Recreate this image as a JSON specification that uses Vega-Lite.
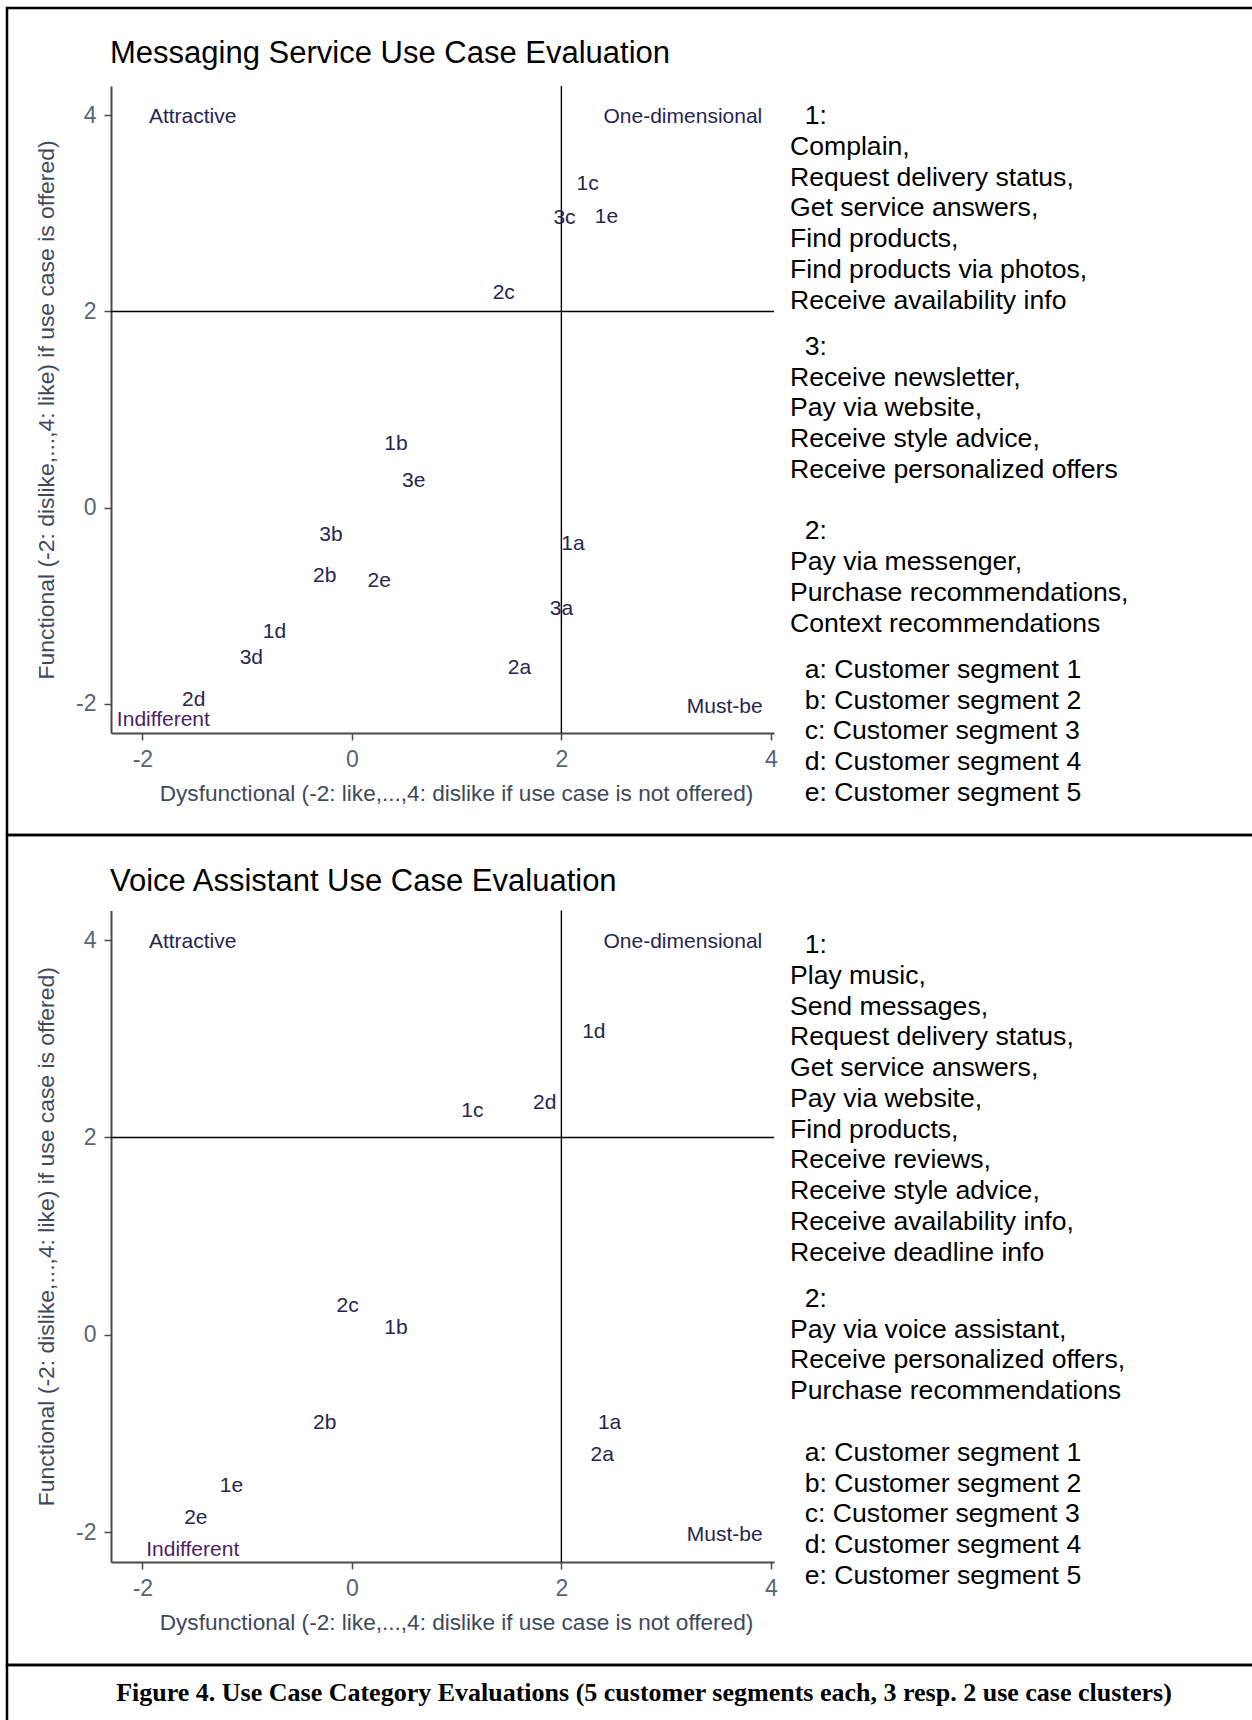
{
  "$schema": "https://vega.github.io/schema/vega-lite/v6.json",
  "padding": {"left": 5, "top": 6, "right": 0, "bottom": 0},
  "bounds": "flush",
  "spacing": 0,
  "config": {
    "view": {"stroke": "black", "strokeWidth": 2.5},
    "font": "Liberation Sans",
    "axis": {
      "grid": false, "domainColor": "#4a4a4a", "domainWidth": 2, "tickColor": "#4a4a4a", "tickWidth": 1.5, "tickSize": 7,
      "labelFont": "Liberation Sans", "labelFontSize": 23, "labelColor": "#56657a", "labelOverlap": false, "labelFlush": false,
      "labelExpr": "'' + datum.value",
      "titleFont": "Liberation Sans", "titleFontWeight": "normal", "titleColor": "#3e4a5c", "titleBaseline": "middle"
    }
  },
  "datasets": {
    "refs": [{"ref": 2}],
    "ms_points": [
      {"label": "1c", "x": 2.25, "y": 3.30},
      {"label": "3c", "x": 2.03, "y": 2.95},
      {"label": "1e", "x": 2.43, "y": 2.96},
      {"label": "2c", "x": 1.45, "y": 2.19},
      {"label": "1b", "x": 0.42, "y": 0.65},
      {"label": "3e", "x": 0.59, "y": 0.27},
      {"label": "3b", "x": -0.20, "y": -0.28},
      {"label": "1a", "x": 2.11, "y": -0.37},
      {"label": "2b", "x": -0.26, "y": -0.70},
      {"label": "2e", "x": 0.26, "y": -0.75},
      {"label": "3a", "x": 2.00, "y": -1.03},
      {"label": "1d", "x": -0.74, "y": -1.27},
      {"label": "3d", "x": -0.96, "y": -1.54},
      {"label": "2a", "x": 1.60, "y": -1.64},
      {"label": "2d", "x": -1.51, "y": -1.96}
    ],
    "ms_quadrants": [
      {"label": "Attractive", "x": -1.52, "y": 3.98},
      {"label": "One-dimensional", "x": 3.16, "y": 3.98},
      {"label": "Indifferent", "x": -1.80, "y": -2.17},
      {"label": "Must-be", "x": 3.56, "y": -2.03}
    ],
    "ms_legend": [
      {"line": 0, "text": "\u200b\u00a0\u00a01:"},
      {"line": 1, "text": "Complain,"},
      {"line": 2, "text": "Request delivery status,"},
      {"line": 3, "text": "Get service answers,"},
      {"line": 4, "text": "Find products,"},
      {"line": 5, "text": "Find products via photos,"},
      {"line": 6, "text": "Receive availability info"},
      {"line": 7.5, "text": "\u200b\u00a0\u00a03:"},
      {"line": 8.5, "text": "Receive newsletter,"},
      {"line": 9.5, "text": "Pay via website,"},
      {"line": 10.5, "text": "Receive style advice,"},
      {"line": 11.5, "text": "Receive personalized offers"},
      {"line": 13.5, "text": "\u200b\u00a0\u00a02:"},
      {"line": 14.5, "text": "Pay via messenger,"},
      {"line": 15.5, "text": "Purchase recommendations,"},
      {"line": 16.5, "text": "Context recommendations"},
      {"line": 18, "text": "\u200b\u00a0\u00a0a: Customer segment 1"},
      {"line": 19, "text": "\u200b\u00a0\u00a0b: Customer segment 2"},
      {"line": 20, "text": "\u200b\u00a0\u00a0c: Customer segment 3"},
      {"line": 21, "text": "\u200b\u00a0\u00a0d: Customer segment 4"},
      {"line": 22, "text": "\u200b\u00a0\u00a0e: Customer segment 5"}
    ],
    "va_points": [
      {"label": "1d", "x": 2.31, "y": 3.07},
      {"label": "2d", "x": 1.84, "y": 2.35},
      {"label": "1c", "x": 1.15, "y": 2.27},
      {"label": "2c", "x": -0.04, "y": 0.29},
      {"label": "1b", "x": 0.42, "y": 0.07},
      {"label": "2b", "x": -0.26, "y": -0.89},
      {"label": "1a", "x": 2.46, "y": -0.89},
      {"label": "2a", "x": 2.39, "y": -1.22},
      {"label": "1e", "x": -1.15, "y": -1.53},
      {"label": "2e", "x": -1.49, "y": -1.85}
    ],
    "va_quadrants": [
      {"label": "Attractive", "x": -1.52, "y": 3.98},
      {"label": "One-dimensional", "x": 3.16, "y": 3.98},
      {"label": "Indifferent", "x": -1.52, "y": -2.18},
      {"label": "Must-be", "x": 3.56, "y": -2.03}
    ],
    "va_legend": [
      {"line": 0, "text": "\u200b\u00a0\u00a01:"},
      {"line": 1, "text": "Play music,"},
      {"line": 2, "text": "Send messages,"},
      {"line": 3, "text": "Request delivery status,"},
      {"line": 4, "text": "Get service answers,"},
      {"line": 5, "text": "Pay via website,"},
      {"line": 6, "text": "Find products,"},
      {"line": 7, "text": "Receive reviews,"},
      {"line": 8, "text": "Receive style advice,"},
      {"line": 9, "text": "Receive availability info,"},
      {"line": 10, "text": "Receive deadline info"},
      {"line": 11.5, "text": "\u200b\u00a0\u00a02:"},
      {"line": 12.5, "text": "Pay via voice assistant,"},
      {"line": 13.5, "text": "Receive personalized offers,"},
      {"line": 14.5, "text": "Purchase recommendations"},
      {"line": 16.5, "text": "\u200b\u00a0\u00a0a: Customer segment 1"},
      {"line": 17.5, "text": "\u200b\u00a0\u00a0b: Customer segment 2"},
      {"line": 18.5, "text": "\u200b\u00a0\u00a0c: Customer segment 3"},
      {"line": 19.5, "text": "\u200b\u00a0\u00a0d: Customer segment 4"},
      {"line": 20.5, "text": "\u200b\u00a0\u00a0e: Customer segment 5"}
    ],
    "caption": [
      {"caption": "Figure 4. Use Case Category Evaluations (5 customer segments each, 3 resp. 2 use case clusters)"}
    ]
  },
  "vconcat": [
    {
      "width": 1250,
      "height": 827,
      "title": {"text": "Messaging Service Use Case Evaluation", "orient": "top", "anchor": "start", "frame": "group", "offset": -77, "dx": 103, "baseline": "middle", "fontSize": 31, "fontWeight": "normal", "color": "black", "font": "Liberation Sans"},
      "resolve": {"scale": {"x": "independent", "y": "independent"}},
      "layer": [
        {
          "data": {"name": "refs"},
          "mark": {"type": "rule", "color": "black", "strokeWidth": 1.4},
          "encoding": {
            "x": {"field": "ref", "type": "quantitative", "scale": {"domain": [-2.3, 4.03], "range": [104, 767], "nice": false, "zero": false}, "axis": null},
            "y": {"datum": -2.3, "type": "quantitative", "scale": {"domain": [-2.3, 4.3], "range": [725, 78], "nice": false, "zero": false}, "axis": null},
            "y2": {"datum": 4.3}
          }
        },
        {
          "data": {"name": "refs"},
          "mark": {"type": "rule", "color": "black", "strokeWidth": 1.4},
          "encoding": {
            "y": {"field": "ref", "type": "quantitative", "scale": {"domain": [-2.3, 4.3], "range": [725, 78], "nice": false, "zero": false}, "axis": null},
            "x": {"datum": -2.3, "type": "quantitative", "scale": {"domain": [-2.3, 4.03], "range": [104, 767], "nice": false, "zero": false}, "axis": null},
            "x2": {"datum": 4.03}
          }
        },
        {
          "data": {"name": "ms_quadrants"},
          "mark": {"type": "text", "font": "Liberation Sans", "fontSize": 21, "align": "center", "baseline": "middle"},
          "encoding": {
            "x": {"field": "x", "type": "quantitative", "scale": {"domain": [-2.3, 4.03], "range": [104, 767], "nice": false, "zero": false}, "axis": null},
            "y": {"field": "y", "type": "quantitative", "scale": {"domain": [-2.3, 4.3], "range": [725, 78], "nice": false, "zero": false}, "axis": null},
            "text": {"field": "label"},
            "color": {"condition": {"test": "datum.label === 'Indifferent'", "value": "#4d1f66"}, "value": "#262650"}
          }
        },
        {
          "data": {"name": "ms_points"},
          "mark": {"type": "text", "font": "Liberation Sans", "fontSize": 21, "align": "center", "baseline": "middle", "color": "#262650"},
          "encoding": {
            "x": {
              "field": "x", "type": "quantitative",
              "scale": {"domain": [-2.3, 4.03], "range": [104, 767], "nice": false, "zero": false},
              "axis": {"orient": "bottom", "title": "Dysfunctional (-2: like,...,4: dislike if use case is not offered)", "values": [-2, 0, 2, 4], "offset": -102, "labelBaseline": "middle", "labelPadding": 19, "titleFontSize": 22.6, "titleX": 449, "titleY": 60}
            },
            "y": {
              "field": "y", "type": "quantitative",
              "scale": {"domain": [-2.3, 4.3], "range": [725, 78], "nice": false, "zero": false},
              "axis": {"orient": "left", "title": "Functional (-2: dislike,...,4: like) if use case is offered)", "values": [-2, 0, 2, 4], "offset": -104, "labelPadding": 8, "labelAngle": 0, "titleFontSize": 22.9, "titleX": -65}
            },
            "text": {"field": "label"}
          }
        },
        {
          "data": {"name": "ms_legend"},
          "mark": {"type": "text", "font": "Liberation Sans", "fontSize": 26.6, "align": "left", "baseline": "middle", "color": "black"},
          "encoding": {
            "x": {"datum": 0, "type": "quantitative", "scale": {"domain": [0, 1], "range": [783, 1250]}, "axis": null},
            "y": {"field": "line", "type": "quantitative", "scale": {"domain": [0, 22], "range": [108, 785], "nice": false, "zero": false}, "axis": null},
            "text": {"field": "text"}
          }
        }
      ]
    },
    {
      "width": 1250,
      "height": 830,
      "title": {"text": "Voice Assistant Use Case Evaluation", "orient": "top", "anchor": "start", "frame": "group", "offset": -78, "dx": 103, "baseline": "middle", "fontSize": 31, "fontWeight": "normal", "color": "black", "font": "Liberation Sans"},
      "resolve": {"scale": {"x": "independent", "y": "independent"}},
      "layer": [
        {
          "data": {"name": "refs"},
          "mark": {"type": "rule", "color": "black", "strokeWidth": 1.4},
          "encoding": {
            "x": {"field": "ref", "type": "quantitative", "scale": {"domain": [-2.3, 4.03], "range": [104, 767], "nice": false, "zero": false}, "axis": null},
            "y": {"datum": -2.3, "type": "quantitative", "scale": {"domain": [-2.3, 4.3], "range": [727, 75.4], "nice": false, "zero": false}, "axis": null},
            "y2": {"datum": 4.3}
          }
        },
        {
          "data": {"name": "refs"},
          "mark": {"type": "rule", "color": "black", "strokeWidth": 1.4},
          "encoding": {
            "y": {"field": "ref", "type": "quantitative", "scale": {"domain": [-2.3, 4.3], "range": [727, 75.4], "nice": false, "zero": false}, "axis": null},
            "x": {"datum": -2.3, "type": "quantitative", "scale": {"domain": [-2.3, 4.03], "range": [104, 767], "nice": false, "zero": false}, "axis": null},
            "x2": {"datum": 4.03}
          }
        },
        {
          "data": {"name": "va_quadrants"},
          "mark": {"type": "text", "font": "Liberation Sans", "fontSize": 21, "align": "center", "baseline": "middle"},
          "encoding": {
            "x": {"field": "x", "type": "quantitative", "scale": {"domain": [-2.3, 4.03], "range": [104, 767], "nice": false, "zero": false}, "axis": null},
            "y": {"field": "y", "type": "quantitative", "scale": {"domain": [-2.3, 4.3], "range": [727, 75.4], "nice": false, "zero": false}, "axis": null},
            "text": {"field": "label"},
            "color": {"condition": {"test": "datum.label === 'Indifferent'", "value": "#4d1f66"}, "value": "#262650"}
          }
        },
        {
          "data": {"name": "va_points"},
          "mark": {"type": "text", "font": "Liberation Sans", "fontSize": 21, "align": "center", "baseline": "middle", "color": "#262650"},
          "encoding": {
            "x": {
              "field": "x", "type": "quantitative",
              "scale": {"domain": [-2.3, 4.03], "range": [104, 767], "nice": false, "zero": false},
              "axis": {"orient": "bottom", "title": "Dysfunctional (-2: like,...,4: dislike if use case is not offered)", "values": [-2, 0, 2, 4], "offset": -103, "labelBaseline": "middle", "labelPadding": 19, "titleFontSize": 22.6, "titleX": 449, "titleY": 60}
            },
            "y": {
              "field": "y", "type": "quantitative",
              "scale": {"domain": [-2.3, 4.3], "range": [727, 75.4], "nice": false, "zero": false},
              "axis": {"orient": "left", "title": "Functional (-2: dislike,...,4: like) if use case is offered)", "values": [-2, 0, 2, 4], "offset": -104, "labelPadding": 8, "labelAngle": 0, "titleFontSize": 22.9, "titleX": -65}
            },
            "text": {"field": "label"}
          }
        },
        {
          "data": {"name": "va_legend"},
          "mark": {"type": "text", "font": "Liberation Sans", "fontSize": 26.6, "align": "left", "baseline": "middle", "color": "black"},
          "encoding": {
            "x": {"datum": 0, "type": "quantitative", "scale": {"domain": [0, 1], "range": [783, 1250]}, "axis": null},
            "y": {"field": "line", "type": "quantitative", "scale": {"domain": [0, 22], "range": [110, 787], "nice": false, "zero": false}, "axis": null},
            "text": {"field": "text"}
          }
        }
      ]
    },
    {
      "width": 1250,
      "height": 57,
      "view": {"stroke": "black", "strokeWidth": 2.5},
      "data": {"name": "caption"},
      "mark": {"type": "text", "font": "Liberation Serif", "fontWeight": "bold", "fontSize": 26, "color": "black", "dx": 12, "dy": -1, "align": "center", "baseline": "middle"},
      "encoding": {"text": {"field": "caption"}}
    }
  ]
}
